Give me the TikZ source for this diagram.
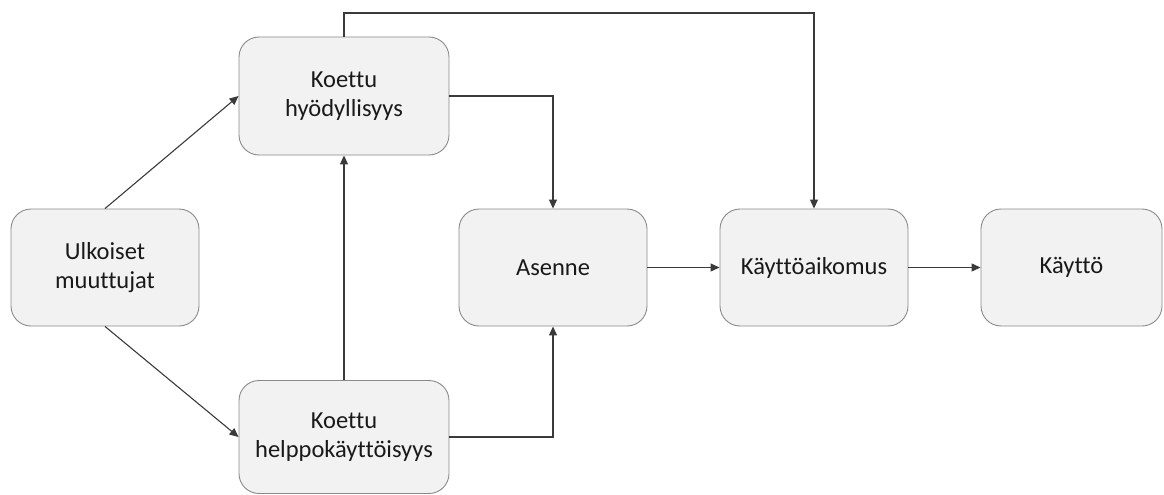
\documentclass[tikz,border=0pt]{standalone}
\usepackage{fontspec}
\setmainfont{Carlito}[Ligatures={NoCommon}]
\usetikzlibrary{arrows.meta,positioning}
\definecolor{boxfill}{HTML}{F2F2F2}
\definecolor{boxline}{HTML}{8A8A8A}
\definecolor{conn}{HTML}{3A3A3A}
\tikzset{
  box/.style={draw=boxline, fill=boxfill, line width=0.9pt, rounded corners=20pt,
    align=center, inner sep=0pt, text=black!90,
    font=\fontsize{24.5pt}{28.5pt}\selectfont},
  arr/.style={draw=conn, line width=1.1pt, -{Triangle[length=9pt,width=8pt]}},
}
\begin{document}
\begin{tikzpicture}[x=1pt,y=-1pt]
\useasboundingbox (0,0) rectangle (1164,495);
\node[box, minimum width=188pt, minimum height=117pt] (U) at (105,267.5) {Ulkoiset\\muuttujat};
\node[box, minimum width=210pt, minimum height=118pt] (H) at (344,96) {Koettu\\hyödyllisyys};
\node[box, minimum width=210pt, minimum height=113pt] (E) at (344,437) {Koettu\\helppokäyttöisyys};
\node[box, minimum width=188pt, minimum height=117pt] (A) at (553,267.5) {Asenne};
\node[box, minimum width=188pt, minimum height=117pt] (I) at (814,267.5) {Käyttöaikomus};
\node[box, minimum width=181pt, minimum height=117pt] (K) at (1071.5,267.5) {Käyttö};
\coordinate (top) at (600,13);
\draw[arr] (U.north) -- (H.west);
\draw[arr] (U.south) -- (E.west);
\draw[arr] (E.north) -- (H.south);
\draw[arr] (H.east) -| (A.north);
\draw[arr] (E.east) -| (A.south);
\draw[arr] (H.north) -- (H.north |- top) -| (I.north);
\draw[arr] (A.east) -- (I.west);
\draw[arr] (I.east) -- (K.west);
\end{tikzpicture}
\end{document}
